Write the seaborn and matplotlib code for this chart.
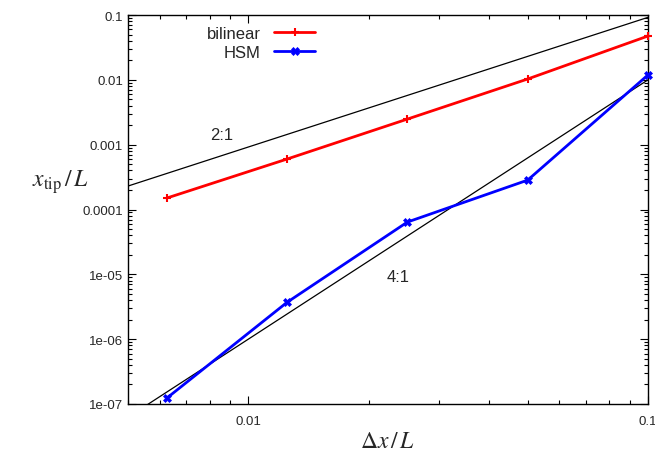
import numpy as np
import pandas as pd
import matplotlib
matplotlib.use("Agg")
import matplotlib.pyplot as plt
import seaborn as sns
from matplotlib.ticker import LogLocator, FixedLocator, FixedFormatter, NullFormatter

# data
dx = [0.00625, 0.0125, 0.025, 0.05, 0.1]
bilinear = [1.5e-4, 6.0e-4, 2.48e-3, 1.03e-2, 4.74e-2]
hsm = [1.23e-7, 3.7e-6, 6.4e-5, 2.84e-4, 1.19e-2]
ref_x = [0.005, 0.1]
ref2_coef = 9.2
ref4_coef = 100.0
ytick_vals = [1e-7, 1e-6, 1e-5, 1e-4, 1e-3, 1e-2, 1e-1]
ytick_labels = ["1e-07", "1e-06", "1e-05", "0.0001", "0.001", "0.01", "0.1"]
xtick_vals = [0.01, 0.1]
xtick_labels = ["0.01", "0.1"]

sns.set_style("ticks")
plt.rcParams['font.family'] = ['Liberation Sans', 'DejaVu Sans']
plt.rcParams['mathtext.fontset'] = 'stix'

fig = plt.figure(figsize=(6.55, 4.52), dpi=100)
ax = fig.add_axes([128/655, 1 - 405/452, (648-128)/655, (405-16)/452])

df = pd.DataFrame({
    "dx": dx * 2,
    "y": bilinear + hsm,
    "method": ["bilinear"] * len(dx) + ["HSM"] * len(dx),
})

rx = np.array(ref_x)
ax.plot(rx, ref2_coef * rx**2, color="black", lw=0.9, zorder=1)
ax.plot(rx, ref4_coef * rx**4, color="black", lw=0.9, zorder=1)

sns.lineplot(data=df[df.method == "bilinear"], x="dx", y="y", ax=ax,
             color="#ff0000", lw=2, marker="+", markersize=6, mew=1.5,
             mec="#ff0000", label="bilinear", zorder=3, clip_on=False)
sns.lineplot(data=df[df.method == "HSM"], x="dx", y="y", ax=ax,
             color="#0000ff", lw=2, marker="X", markersize=6, mew=0.5,
             mec="#0000ff", mfc="#0000ff", label="HSM", zorder=3, clip_on=False)

ax.set_xscale("log")
ax.set_yscale("log")
ax.set_xlim(0.005, 0.1)
ax.set_ylim(1e-7, 0.1)

ax.yaxis.set_major_locator(FixedLocator(ytick_vals))
ax.yaxis.set_major_formatter(FixedFormatter(ytick_labels))
ax.yaxis.set_minor_locator(LogLocator(base=10, subs=np.arange(2, 10) * 1.0, numticks=20))
ax.yaxis.set_minor_formatter(NullFormatter())
ax.xaxis.set_major_locator(FixedLocator(xtick_vals))
ax.xaxis.set_major_formatter(FixedFormatter(xtick_labels))
ax.xaxis.set_minor_locator(LogLocator(base=10, subs=np.arange(2, 10) * 1.0, numticks=20))
ax.xaxis.set_minor_formatter(NullFormatter())

ax.tick_params(which="both", direction="in", top=True, right=True, labelsize=9.5, color="black")
ax.tick_params(which="major", length=6, width=0.8)
ax.tick_params(which="minor", length=3, width=0.8)
ax.tick_params(axis="x", pad=8)
for s in ax.spines.values():
    s.set_linewidth(1.0)
    s.set_color("black")

ax.set_xlabel(r"$\Delta x\,/\,L$", fontsize=17, labelpad=2)
ax.set_ylabel(r"$x_{\rm tip}\,/\,L$", fontsize=17, rotation=0, va="center", labelpad=0)
ax.yaxis.set_label_coords(-0.13, (405 - 182) / 389)

ax.text(0.0086, 1.46e-3, "2:1", fontsize=12, ha="center", va="center")
ax.text(0.0237, 9.3e-6, "4:1", fontsize=12, ha="center", va="center")

leg = ax.legend(loc="upper left", bbox_to_anchor=(0.13, 1.0), frameon=False,
                markerfirst=False, fontsize=12, handlelength=2.5,
                handletextpad=0.8, labelspacing=0.25, borderaxespad=0.25)
for t in leg.get_texts():
    t.set_ha("right")

fig.savefig("out.png", dpi=100)
